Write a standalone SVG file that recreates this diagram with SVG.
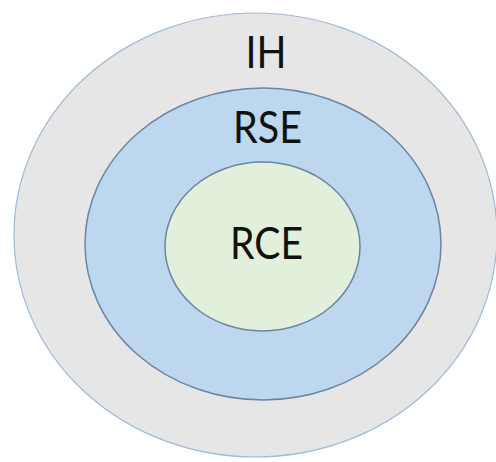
<svg xmlns="http://www.w3.org/2000/svg" width="496" height="462" viewBox="0 0 496 462">
  <style>
    .lbl { font-family: "Lato", "Liberation Sans", sans-serif; font-size: 45px; fill: #111111; text-anchor: middle; }
  </style>
  <rect width="496" height="462" fill="#ffffff"/>
  <g id="IH">
    <ellipse cx="255.5" cy="235" rx="241.5" ry="222" fill="#e7e6e6" stroke="#9fbad6" stroke-width="1.2"/>
    <text class="lbl" x="266" y="68" textLength="41" lengthAdjust="spacingAndGlyphs">IH</text>
  </g>
  <g id="RSE">
    <ellipse cx="263" cy="244" rx="178" ry="156" fill="#bdd7ee" stroke="#6a86a3" stroke-width="1.5"/>
    <text class="lbl" x="267.5" y="143" textLength="69" lengthAdjust="spacingAndGlyphs">RSE</text>
  </g>
  <g id="RCE">
    <ellipse cx="262.5" cy="246.5" rx="97.5" ry="84.5" fill="#e2efda" stroke="#6a86a3" stroke-width="1.5"/>
    <text class="lbl" x="266.5" y="259" textLength="73" lengthAdjust="spacingAndGlyphs">RCE</text>
  </g>
  <g id="connectors"/>
</svg>
